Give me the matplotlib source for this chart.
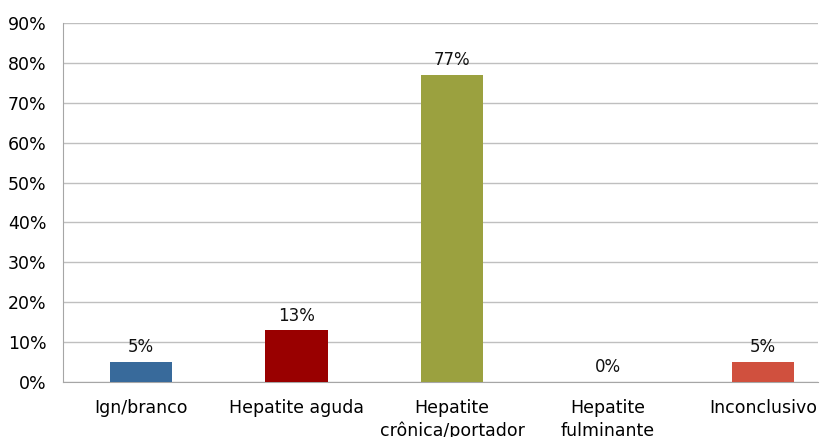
import matplotlib.pyplot as plt
from matplotlib.ticker import PercentFormatter

categories = ['Ign/branco', 'Hepatite aguda', 'Hepatite\ncrônica/portador',
              'Hepatite\nfulminante', 'Inconclusivo']
values = [5, 13, 77, 0, 5]
colors = ['#386A9B', '#990000', '#9BA13F', '#000000', '#D0503E']

plt.rcParams['font.family'] = ['DejaVu Sans']

fig = plt.figure(figsize=(8.29, 4.37), dpi=100)
ax = fig.add_axes([0.076, 0.126, 0.911, 0.821])

x = range(len(categories))
bars = ax.bar(x, values, width=0.40, color=colors, zorder=3)

for xi, v in zip(x, values):
    ax.annotate(f'{v}%', (xi, v), xytext=(0, 4), textcoords='offset points',
                ha='center', va='bottom', fontsize=12, color='#111111')

ax.set_ylim(0, 90)
ax.set_xlim(-0.502, 4.354)
ax.set_yticks(range(0, 91, 10))
ax.yaxis.set_major_formatter(PercentFormatter(decimals=0))
ax.set_xticks(list(x))
ax.set_xticklabels(categories, fontsize=12.5, linespacing=1.35)
ax.tick_params(axis='y', labelsize=12.5, length=0, pad=12)
ax.tick_params(axis='x', length=0, pad=12)
ax.grid(axis='y', color='#BFBFBF', linewidth=1, zorder=0)

for side in ['top', 'right']:
    ax.spines[side].set_visible(False)
for side in ['left', 'bottom']:
    ax.spines[side].set_color('#A6A6A6')

fig.savefig('out.png', dpi=100)
